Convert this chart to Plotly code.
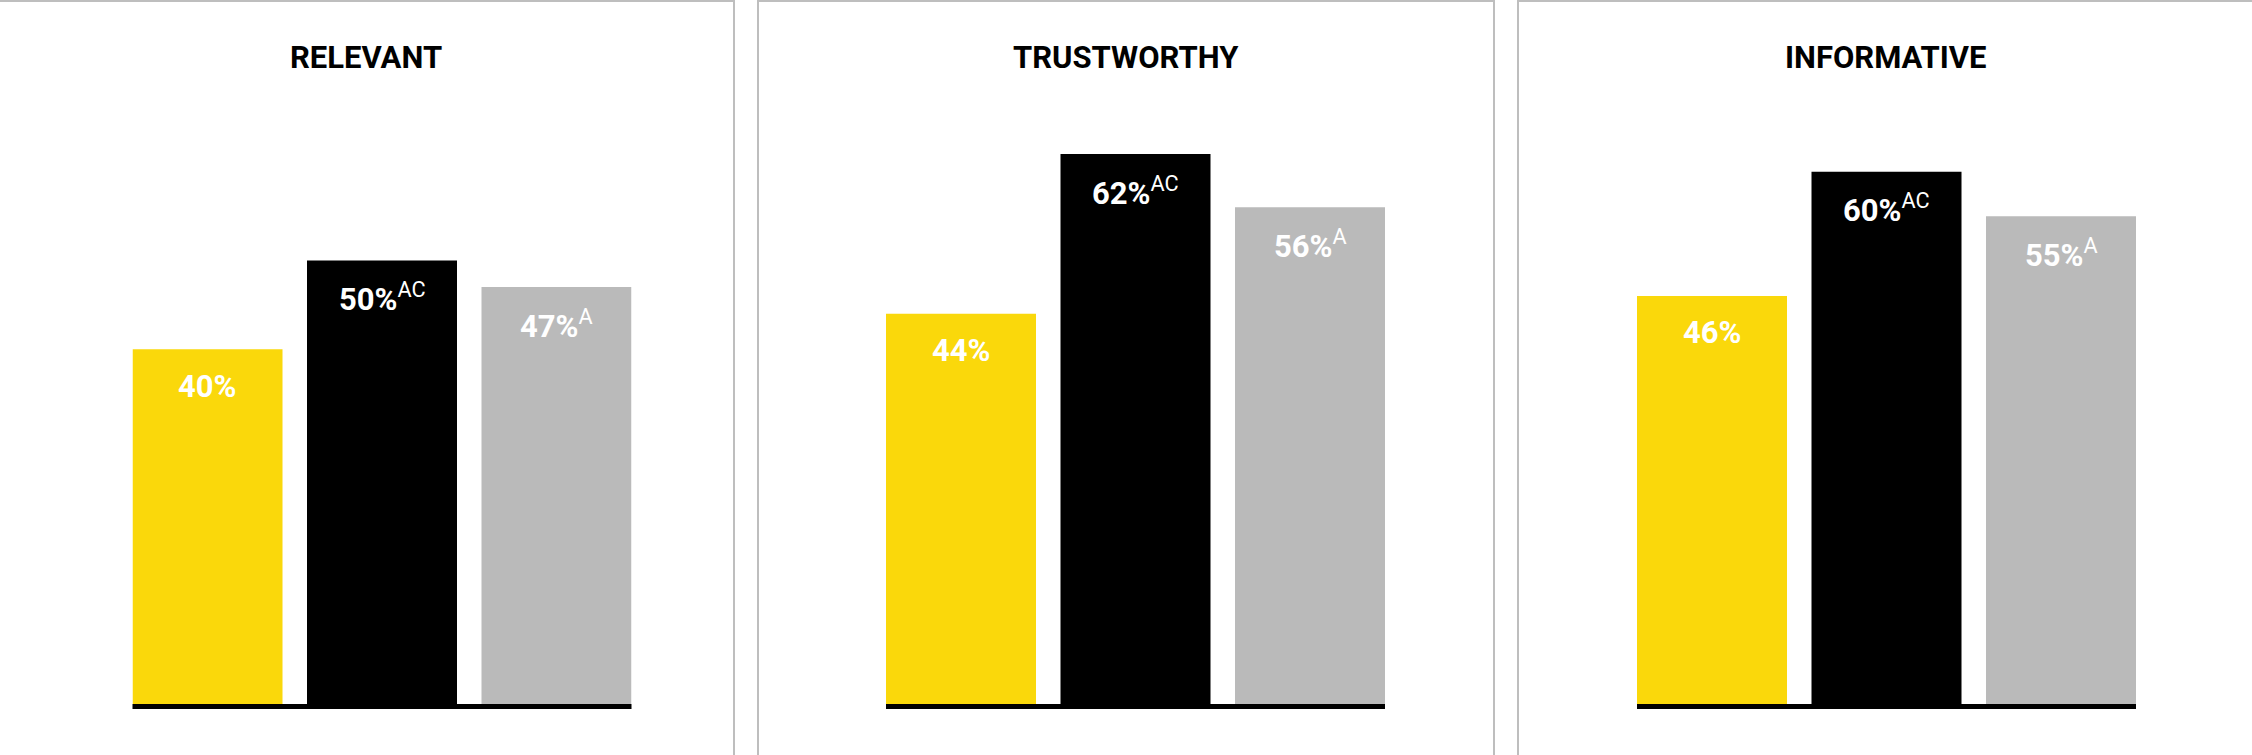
import plotly.graph_objects as go

# ---- data -------------------------------------------------------------
attributes = ["RELEVANT", "TRUSTWORTHY", "INFORMATIVE"]
groups = ["A", "B", "C"]
relevant = [40, 50, 47]
trustworthy = [44, 62, 56]
informative = [46, 60, 55]
relevant_sig = ["", "AC", "A"]
trustworthy_sig = ["", "AC", "A"]
informative_sig = ["", "AC", "A"]

series = [relevant, trustworthy, informative]
sig_letters = [relevant_sig, trustworthy_sig, informative_sig]

# ---- styling / layout ---------------------------------------------------
W, H = 2252, 755
colors = ["#FAD80B", "#000000", "#BABABA"]
border = "#BEBEBE"

panel_left = [-2, 758, 1518]      # panel box left edges (px)
panel_w = 736                     # panel box width (px)
bars_left = [132.5, 886, 1637]    # left edge of first bar in each panel (px)
bars_span = 499                   # first bar left -> last bar right (px)
base_px = 704                     # bar baseline, px from top
px_per_unit = 8.87
bargap = 0.1404
half = bargap / 2

y_dom0 = (H - base_px) / H
y_top = base_px / px_per_unit

fig = go.Figure()
shapes = []
annotations = []

for i, (name, vals, sigs) in enumerate(zip(attributes, series, sig_letters)):
    n = "" if i == 0 else str(i + 1)
    xa, ya = "x" + n, "y" + n
    fig.add_trace(go.Bar(
        x=groups, y=vals, xaxis=xa, yaxis=ya,
        marker=dict(color=colors, line=dict(width=0)),
        hoverinfo="skip", showlegend=False,
    ))
    x0 = bars_left[i] / W
    x1 = (bars_left[i] + bars_span) / W
    fig.update_layout(**{
        "xaxis" + n: dict(domain=[x0, x1], anchor=ya, type="category",
                          range=[-0.5 + half, 2.5 - half],
                          visible=False, fixedrange=True),
        "yaxis" + n: dict(domain=[y_dom0, 1], anchor=xa, range=[0, y_top],
                          visible=False, fixedrange=True),
    })

    # panel frame
    pl = panel_left[i]
    shapes.append(dict(type="rect", xref="paper", yref="paper",
                       x0=pl / W, x1=(pl + panel_w) / W,
                       y0=-0.2, y1=1 - 1 / H,
                       line=dict(color=border, width=2), layer="below"))
    # baseline under the bars
    shapes.append(dict(type="rect", xref=xa + " domain", yref="paper",
                       x0=0, x1=1, y0=(H - base_px) / H, y1=(H - base_px - 5) / H,
                       fillcolor="#000000", line=dict(width=0)))
    # panel title
    annotations.append(dict(
        text=name, xref="paper", yref="paper",
        x=(pl + panel_w / 2) / W, y=(H - 58) / H,
        xanchor="center", yanchor="middle", showarrow=False,
        font=dict(family="Roboto, Liberation Sans Narrow, sans-serif",
                  size=31, color="#000000", weight="bold"),
    ))
    # value labels inside the bars
    for g, v, s in zip(groups, vals, sigs):
        label = f"<b>{v}%</b>" + (f"<sup>{s}</sup>" if s else "")
        annotations.append(dict(
            text=label, xref=xa, yref=ya, x=g, y=v, yshift=-37,
            xanchor="center", yanchor="middle", showarrow=False,
            font=dict(family="Roboto, Open Sans, sans-serif", size=31,
                      color="#FFFFFF"),
        ))

fig.update_layout(
    width=W, height=H,
    margin=dict(l=0, r=0, t=0, b=0),
    paper_bgcolor="#FFFFFF", plot_bgcolor="rgba(0,0,0,0)",
    bargap=bargap,
    shapes=shapes, annotations=annotations,
)

fig.write_html("out.html")
